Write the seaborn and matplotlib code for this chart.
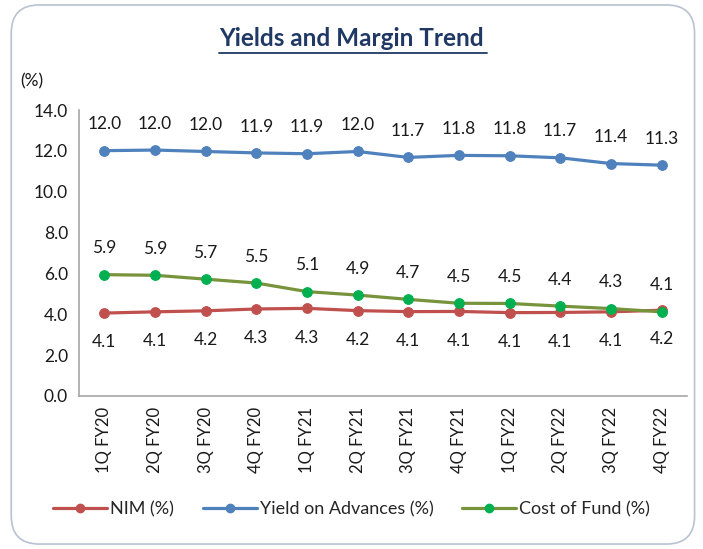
import matplotlib
matplotlib.use("Agg")
import matplotlib.pyplot as plt
from matplotlib.patches import FancyBboxPatch
from matplotlib.lines import Line2D
import seaborn as sns
import pandas as pd

quarters = ["1Q FY20", "2Q FY20", "3Q FY20", "4Q FY20", "1Q FY21", "2Q FY21",
            "3Q FY21", "4Q FY21", "1Q FY22", "2Q FY22", "3Q FY22", "4Q FY22"]
nim = [4.06, 4.12, 4.17, 4.26, 4.29, 4.18, 4.13, 4.14, 4.08, 4.09, 4.12, 4.20]
yield_adv = [12.01, 12.04, 11.97, 11.90, 11.86, 11.97, 11.68, 11.78, 11.76, 11.66, 11.38, 11.30]
cost_fund = [5.94, 5.91, 5.72, 5.53, 5.11, 4.94, 4.73, 4.54, 4.53, 4.40, 4.28, 4.12]
yticks = [0, 2, 4, 6, 8, 10, 12, 14]

sns.set_theme(style="white")
plt.rcParams["font.family"] = ["Lato", "DejaVu Sans"]

fig = plt.figure(figsize=(7.03, 5.49), dpi=100)
fig.patch.set_facecolor("white")
box = FancyBboxPatch((0.016, 0.009), 0.972, 0.982, boxstyle="round,pad=0,rounding_size=0.04",
                     transform=fig.transFigure, facecolor="none", edgecolor="#B9C1D3",
                     linewidth=1.2, mutation_aspect=703 / 549, zorder=-10)
fig.patches.append(box)

ax = fig.add_axes([0.1124, 0.2787, 0.8646, 0.5209])
ax.set_facecolor("none")

x = list(range(len(quarters)))
series = [
    ("NIM (%)", nim, "#C0504D", "#C0504D", -1),
    ("Yield on Advances (%)", yield_adv, "#4F81BD", "#4F81BD", 1),
    ("Cost of Fund (%)", cost_fund, "#77933C", "#00B050", 1),
]
handles = []
for name, vals, lc, mc, side in series:
    df = pd.DataFrame({"x": x, "y": vals})
    sns.lineplot(data=df, x="x", y="y", ax=ax, color=lc, linewidth=2.3, marker="o",
                 markersize=7, markerfacecolor=mc, markeredgecolor=mc, sort=False,
                 legend=False)
    for xi, v in zip(x, vals):
        ax.annotate(f"{v:.1f}", (xi, v), xytext=(0, 19 if side > 0 else -21),
                    textcoords="offset points", ha="center", va="center",
                    fontsize=12.5, color="#1a1a1a")
    handles.append(Line2D([0], [0], color=lc, linewidth=2.3, marker="o", markersize=6,
                          markerfacecolor=mc, markeredgecolor=mc, label=name))

ax.set_xlim(-0.5, len(quarters) - 0.5)
ax.set_ylim(0, 14)
ax.set_yticks(yticks)
ax.set_yticklabels([f"{t:.1f}" for t in yticks], fontsize=12.5, color="#1a1a1a")
ax.set_xticks(x)
ax.set_xticklabels(quarters, rotation=90, fontsize=12, color="#1a1a1a")
ax.tick_params(axis="both", length=0, pad=8)
ax.set_xlabel("")
ax.set_ylabel("")
for s in ["top", "right"]:
    ax.spines[s].set_visible(False)
for s in ["left", "bottom"]:
    ax.spines[s].set_color("#A6A6A6")
    ax.spines[s].set_linewidth(1.2)

fig.text(0.5, 0.929, "Yields and Margin Trend", ha="center", va="center",
         fontsize=17.5, fontweight="bold", color="#1F3864")
fig.add_artist(Line2D([0.311, 0.693], [0.903, 0.903], transform=fig.transFigure,
                      color="#1F3864", linewidth=1.3))
fig.text(0.029, 0.852, "(%)", ha="left", va="center", fontsize=12.5, color="#1a1a1a")

fig.legend(handles=handles, loc="center", bbox_to_anchor=(0.5, 0.073), ncol=3,
           frameon=False, fontsize=13, handlelength=3.0, columnspacing=1.6,
           handletextpad=0.15)

fig.savefig("out.png", dpi=100, facecolor="white")
